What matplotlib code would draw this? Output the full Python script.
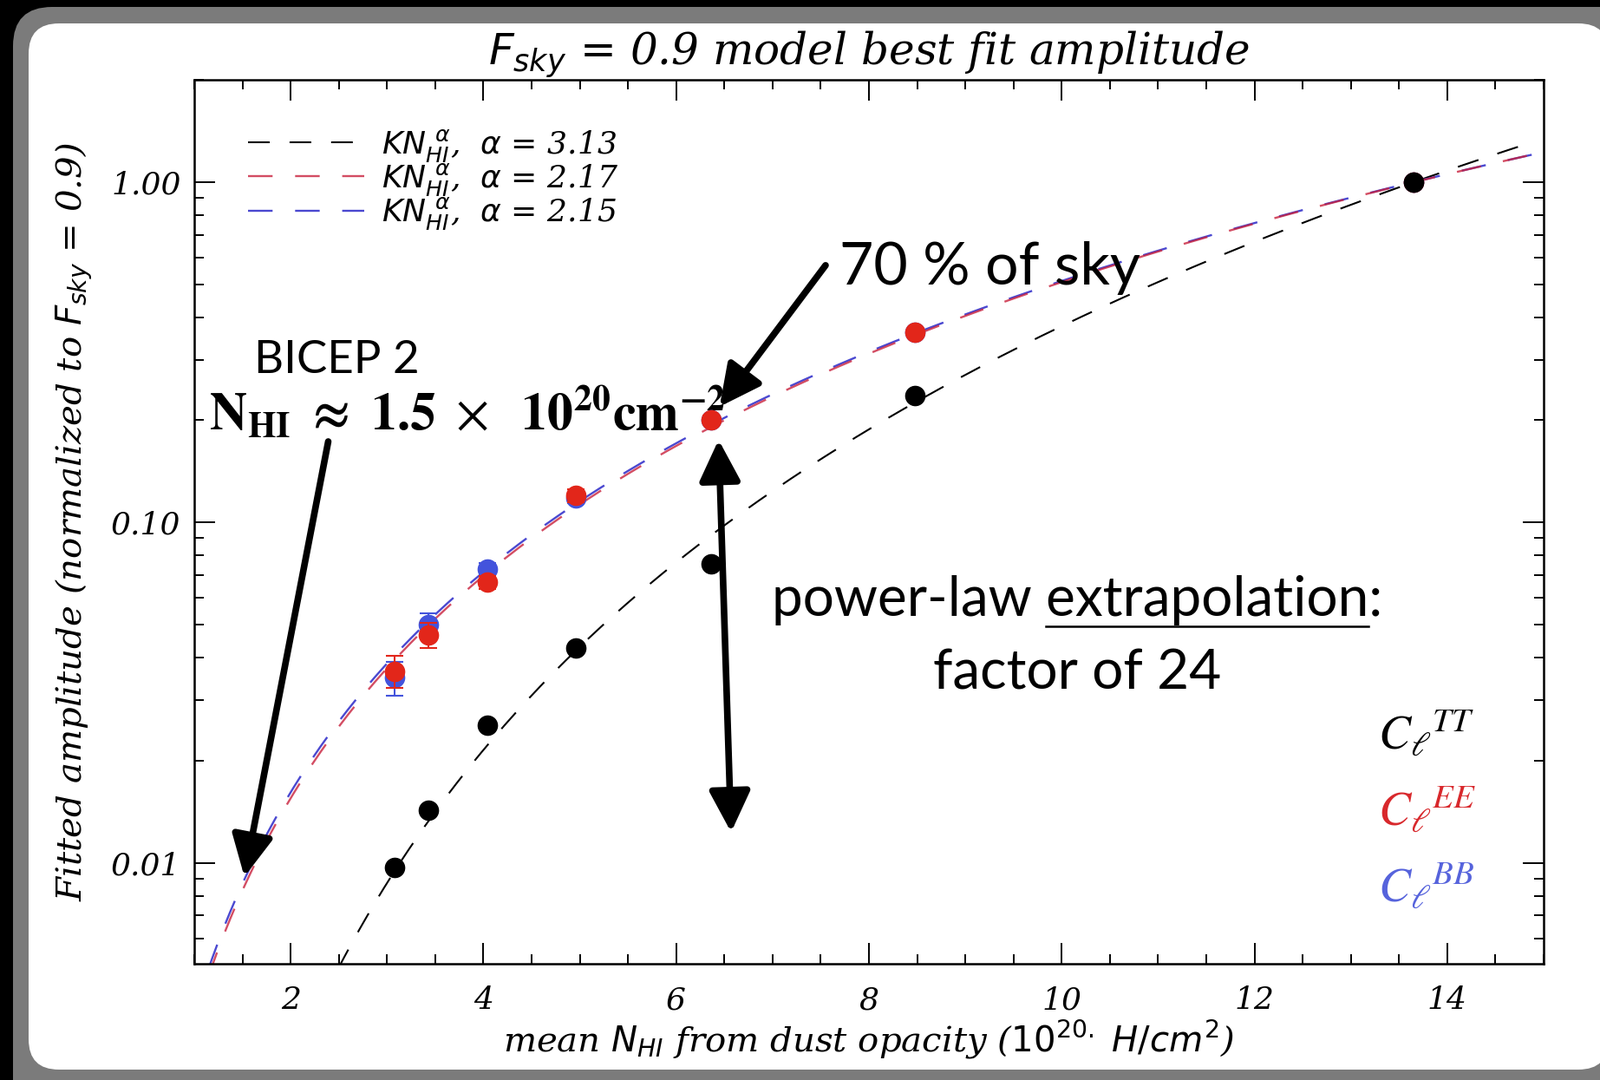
import numpy as np
import matplotlib
matplotlib.use("Agg")
import matplotlib.pyplot as plt
from matplotlib.patches import FancyBboxPatch
from matplotlib.lines import Line2D
from matplotlib.ticker import LogLocator, MultipleLocator, NullFormatter

# mean N_HI of each sky mask (10^20 H/cm^2)
n_hi = [3.08, 3.43, 4.04, 4.96, 6.36, 8.48, 13.65]

# fitted amplitudes, normalised to F_sky = 0.9
amp_tt = [0.0097, 0.0143, 0.0254, 0.0427, 0.0757, 0.236, 1.0]
amp_ee = [0.0366, 0.0467, 0.0668, 0.120, 0.200, 0.362, 1.0]
err_ee = [0.004, 0.004, 0.003, 0.005, 0.006, 0.010, 0.0]
amp_bb = [0.0350, 0.0500, 0.0730, 0.118, 0.200, 0.362, 1.0]
err_bb = [0.004, 0.004, 0.003, 0.004, 0.005, 0.010, 0.0]

# power-law fits K * N_HI^alpha
k_tt, alpha_tt = 2.80e-4, 3.13
k_ee, alpha_ee = 3.44e-3, 2.17
k_bb, alpha_bb = 3.63e-3, 2.15

y_ticks = [0.01, 0.1, 1.0]
y_ticklabels = ["0.01", "0.10", "1.00"]
x_ticks = [2, 4, 6, 8, 10, 12, 14]

RED = "#e2261a"
BLUE = "#4353dc"
RED_LINE = "#c8203c"
BLUE_LINE = "#4a48d0"

W, H = 1845, 1245
fig = plt.figure(figsize=(W / 100, H / 100), dpi=100)
fig.patch.set_facecolor("black")

# rounded slide frame
bg = fig.add_axes([0, 0, 1, 1])
bg.set_xlim(0, W)
bg.set_ylim(H, 0)
bg.axis("off")
bg.add_patch(FancyBboxPatch((15, 8), 1900, 1300,
    boxstyle="round,pad=0,rounding_size=45", fc="#7b7b7b", ec="none"))
bg.add_patch(FancyBboxPatch((33, 27), 1822, 1206,
    boxstyle="round,pad=0,rounding_size=35", fc="white", ec="none"))

ax = fig.add_axes([224 / W, 1 - 1111 / H, (1780 - 224) / W, (1111 - 92) / H])
ax.set_facecolor("none")
ax.set_yscale("log")
ax.set_xlim(1, 15)
ax.set_ylim(0.00505, 2.0)

serif = dict(family="DejaVu Serif", style="italic")

# model curves
x_tt = np.linspace(2.3, 14.8, 300)
x_pl = np.linspace(1.0, 15.0, 300)
dash = (12, 11)
l_tt, = ax.plot(x_tt, k_tt * x_tt ** alpha_tt, color="black", lw=1.5,
    dashes=dash, label=r"$KN_{HI}^{\ \alpha}$,  $\alpha$ = %.2f" % alpha_tt)
l_bb, = ax.plot(x_pl, k_bb * x_pl ** alpha_bb, color=BLUE_LINE, lw=1.7,
    dashes=dash, label=r"$KN_{HI}^{\ \alpha}$,  $\alpha$ = %.2f" % alpha_bb)
l_ee, = ax.plot(x_pl, k_ee * x_pl ** alpha_ee, color=RED_LINE, lw=1.7,
    dashes=dash, alpha=0.8,
    label=r"$KN_{HI}^{\ \alpha}$,  $\alpha$ = %.2f" % alpha_ee)

# data points
ax.errorbar(n_hi, amp_bb, yerr=err_bb, fmt="o", color=BLUE, ms=16,
    capsize=7, elinewidth=1.5, capthick=1.5, zorder=4)
ax.errorbar(n_hi, amp_ee, yerr=err_ee, fmt="o", color=RED, ms=16,
    capsize=7, elinewidth=1.5, capthick=1.5, ecolor=RED, zorder=5)
ax.plot(n_hi, amp_tt, "o", color="black", ms=16, zorder=6)

# axes styling
for s in ax.spines.values():
    s.set_linewidth(1.8)
ax.set_xticks(x_ticks)
ax.set_xticklabels([str(t) for t in x_ticks])
ax.xaxis.set_minor_locator(MultipleLocator(0.5))
ax.set_yticks(y_ticks)
ax.set_yticklabels(y_ticklabels)
ax.yaxis.set_minor_locator(LogLocator(base=10, subs=np.arange(2, 10)))
ax.yaxis.set_minor_formatter(NullFormatter())
ax.tick_params(which="both", direction="in", top=True, right=True,
    width=1.4, labelsize=26)
ax.tick_params(which="major", length=17)
ax.tick_params(which="minor", length=8)
ax.tick_params(axis="x", pad=18)
ax.tick_params(axis="y", pad=11)
for lab in ax.get_xticklabels() + ax.get_yticklabels():
    lab.set_family("DejaVu Serif")
    lab.set_style("italic")

ax.set_title(r"$F_{sky}$ = 0.9 model best fit amplitude", fontsize=36,
    pad=4, **serif)
ax.set_xlabel(r"mean $N_{HI}$ from dust opacity ($10^{20.}$ $H/cm^{2}$)",
    fontsize=29, labelpad=3, **serif)
ax.set_ylabel(r"Fitted amplitude (normalized to $F_{sky}$ = 0.9)",
    fontsize=29, labelpad=13, **serif)

leg = ax.legend(handles=[l_tt, l_ee, l_bb], loc="upper left",
    bbox_to_anchor=(0.04, 0.946), frameon=False, fontsize=26,
    handlelength=3.7, handletextpad=0.55, labelspacing=-0.08,
    borderpad=0, borderaxespad=0)
for t in leg.get_texts():
    t.set_family("DejaVu Serif")
    t.set_style("italic")

# annotations
arrow = dict(arrowstyle="-|>,head_length=0.9,head_width=0.45",
    mutation_scale=32, lw=5.5, color="black", shrinkA=0, shrinkB=0)
ax.annotate("", xy=(6.45, 0.219), xytext=(7.55, 0.57), arrowprops=arrow)
ax.text(7.69, 0.56, "70 % of sky", family="Lato", fontsize=49,
    ha="left", va="center")

ax.annotate("", xy=(1.52, 0.0091), xytext=(2.39, 0.173), arrowprops=arrow)
ax.text(2.48, 0.30, "BICEP 2", family="Lato", fontsize=38,
    ha="center", va="center")
ax.text(1.15, 0.208,
    r"$\mathbf{N}_{\mathbf{HI}}\ \mathbf{\approx}\ \mathbf{1.5}\ \times\ \ "
    r"\mathbf{10^{20}cm^{-2}}$",
    math_fontfamily="stix", fontsize=43, ha="left", va="center")

darrow = dict(arrow, arrowstyle="<|-|>,head_length=0.9,head_width=0.45")
ax.annotate("", xy=(6.57, 0.0123), xytext=(6.44, 0.175), arrowprops=darrow)

t1 = ax.text(10.16, 0.0531, "power-law extrapolation:", family="Lato",
    fontsize=46, ha="center", va="baseline")
ax.text(10.16, 0.0323, "factor of 24", family="Lato", fontsize=46,
    ha="center", va="baseline")

ax.text(13.28, 0.0237, r"$C_{\ell}{}^{TT}$", math_fontfamily="stix",
    fontsize=40, color="black", ha="left", va="center")
ax.text(13.28, 0.0141, r"$C_{\ell}{}^{EE}$", math_fontfamily="stix",
    fontsize=40, color="#d8282c", ha="left", va="center")
ax.text(13.28, 0.0084, r"$C_{\ell}{}^{BB}$", math_fontfamily="stix",
    fontsize=40, color="#5663dc", ha="left", va="center")

# underline "extrapolation"
fig.canvas.draw()
r = fig.canvas.get_renderer()
def text_width(s):
    tmp = ax.text(0, 0, s, family="Lato", fontsize=46)
    w = tmp.get_window_extent(r).width
    tmp.remove()
    return w
bb = t1.get_window_extent(r)
x0 = bb.x0 + text_width("power-law extrapolation:") - text_width("extrapolation:")
x1 = x0 + text_width("extrapolation")
yline = ax.transData.transform((10.16, 0.0531))[1] - 12
fig.add_artist(Line2D([x0 / W, x1 / W], [yline / H, yline / H],
    transform=fig.transFigure, color="black", lw=1.8))

fig.savefig("out.png", dpi=100, facecolor=fig.get_facecolor())
